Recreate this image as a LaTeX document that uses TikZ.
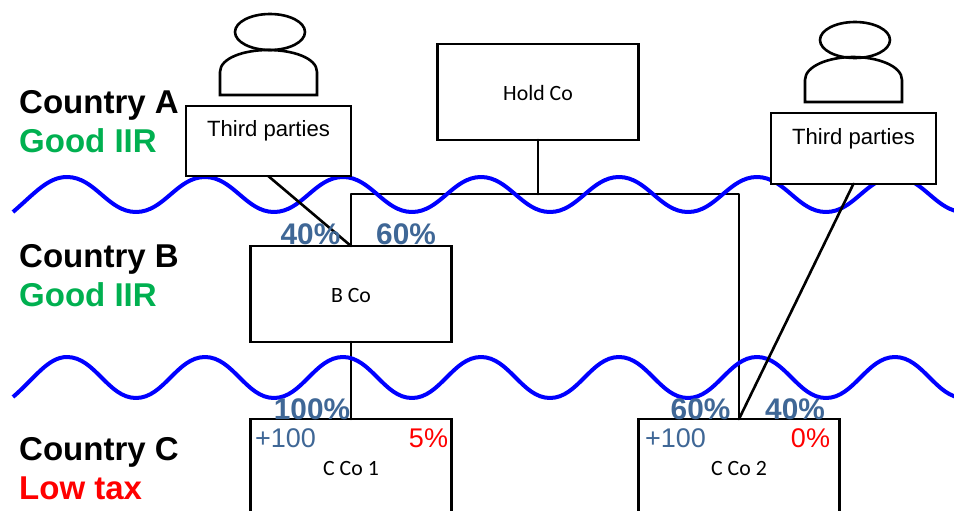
\documentclass[tikz,border=0pt]{standalone}
\usepackage{fontspec}
\setmainfont{Liberation Sans}
\newfontfamily\carlitofont{Carlito}
\usepackage{pgf,tikz}
\definecolor{qqqqff}{rgb}{0.,0.,1.}
\definecolor{qqbbff}{rgb}{0.,0.690196078431,0.313725490196}
\definecolor{ffqqqq}{rgb}{1.,0.,0.}
\definecolor{ddggtt}{rgb}{0.247058823529,0.403921568627,0.588235294118}
\begin{document}
\begin{tikzpicture}[line cap=round,line join=round,x=1pt,y=-1pt,
  company/.style={draw=black,fill=white,line width=2.8pt,line join=miter,minimum width=201pt,minimum height=96pt,inner sep=0pt,outer sep=0pt,text height=16pt,text depth=0pt,font=\carlitofont\fontsize{21.8}{25}\selectfont},
  parties/.style={draw=black,fill=white,line width=2pt,line join=miter,minimum width=165pt,minimum height=70.5pt,inner sep=0pt,outer sep=0pt},
  link/.style={line width=2.6pt,color=black},
  wave/.style={line width=4pt,color=qqqqff,line cap=butt},
  person/.style={line width=2.6pt,color=black,line join=miter},
  country/.style={anchor=base west,inner sep=0pt,font=\bfseries\fontsize{33}{38}\selectfont},
  percent/.style={anchor=base,inner sep=0pt,color=ddggtt,font=\bfseries\fontsize{29.8}{34}\selectfont},
  amount/.style={anchor=base,inner sep=0pt,font=\fontsize{27}{32}\selectfont}]
\useasboundingbox (0,0) rectangle (954,511);
\clip (0,0) rectangle (954,511);
% ownership lines under the borders
\coordinate (bus) at (538,194);
\node[company] (hold) at (538,92) {Hold Co};
\node[company] (bco) at (351,294) {B Co};
\node[company] (ccoone) at (351,467) {C Co 1};
\node[company] (ccotwo) at (739,467) {C Co 2};
\draw[link] (hold.south) -- (bus);
\draw[link] (bus) -| (bco.north);
\draw[link] (bus) -| (ccotwo.north);
\draw[link] (bco.south) -- (ccoone.north);
% borders
\draw[wave] (13,212) .. controls (35,193) and (48,177) .. (67,177) .. controls (95,177) and (108,212) .. (136,212) .. controls (164,212) and (177,177) .. (205,177) .. controls (233,177) and (246,212) .. (274,212) .. controls (302,212) and (315,177) .. (343,177) .. controls (371,177) and (384,212) .. (412,212) .. controls (440,212) and (453,177) .. (481,177) .. controls (509,177) and (522,212) .. (550,212) .. controls (578,212) and (591,177) .. (619,177) .. controls (647,177) and (660,212) .. (688,212) .. controls (716,212) and (729,177) .. (757,177) .. controls (785,177) and (798,212) .. (826,212) .. controls (854,212) and (867,177) .. (895,177) .. controls (923,177) and (936,212) .. (964,212);
\draw[wave] (13,397) .. controls (35,378) and (48,357) .. (67,357) .. controls (95,357) and (108,398) .. (136,398) .. controls (164,398) and (177,357) .. (205,357) .. controls (233,357) and (246,398) .. (274,398) .. controls (302,398) and (315,357) .. (343,357) .. controls (371,357) and (384,398) .. (412,398) .. controls (440,398) and (453,357) .. (481,357) .. controls (509,357) and (522,398) .. (550,398) .. controls (578,398) and (591,357) .. (619,357) .. controls (647,357) and (660,398) .. (688,398) .. controls (716,398) and (729,357) .. (757,357) .. controls (785,357) and (798,398) .. (826,398) .. controls (854,398) and (867,357) .. (895,357) .. controls (923,357) and (936,398) .. (964,398);
\node[parties] (thirdleft) at (268.5,141) {};
\node[parties] (thirdright) at (853.5,148.5) {};
\draw[link] (thirdleft.south) -- (bco.north);
\draw[link] (thirdright.south) -- (ccotwo.north);
% people
\draw[person] (270,32) ellipse (35pt and 18pt);
\draw[person] (220,95) -- (220,72) .. controls (220,58) and (244,50) .. (268,50) .. controls (293,50) and (317,58) .. (317,72) -- (317,95) -- cycle;
\draw[person] (855,40) ellipse (35pt and 18pt);
\draw[person] (805,102) -- (805,80) .. controls (805,66) and (829,57) .. (853,57) .. controls (878,57) and (902,66) .. (902,80) -- (902,102) -- cycle;
% texts
\draw (268.5,136) node[anchor=base,inner sep=0pt,font=\fontsize{22.1}{26}\selectfont] (thirdlefttext) {Third parties};
\draw (853.5,144) node[anchor=base,inner sep=0pt,font=\fontsize{22.1}{26}\selectfont] (thirdrighttext) {Third parties};
\draw (19,113.5) node[country] (countrya) {Country A};
\draw[color=qqbbff] (19,153) node[country] (iira) {Good IIR};
\draw (19,267) node[country] (countryb) {Country B};
\draw[color=qqbbff] (19,306) node[country] (iirb) {Good IIR};
\draw (19,460.5) node[country] (countryc) {Country C};
\draw[color=ffqqqq] (19,499) node[country] (lowtax) {Low tax};
\draw (310.5,244.5) node[percent] (pctthirdb) {40\%};
\draw (406,244.5) node[percent] (pctholdb) {60\%};
\draw (312,419.5) node[percent] (pctbcone) {100\%};
\draw (700.5,419.5) node[percent] (pctholdctwo) {60\%};
\draw (795,419.5) node[percent] (pctthirdctwo) {40\%};
\draw[color=ddggtt] (285.5,447) node[amount] (profitone) {+100};
\draw[color=ddggtt] (675.5,447) node[amount] (profittwo) {+100};
\draw[color=ffqqqq] (428.5,447) node[amount] (rateone) {5\%};
\draw[color=ffqqqq] (810.5,447) node[amount] (ratetwo) {0\%};
\end{tikzpicture}
\end{document}
